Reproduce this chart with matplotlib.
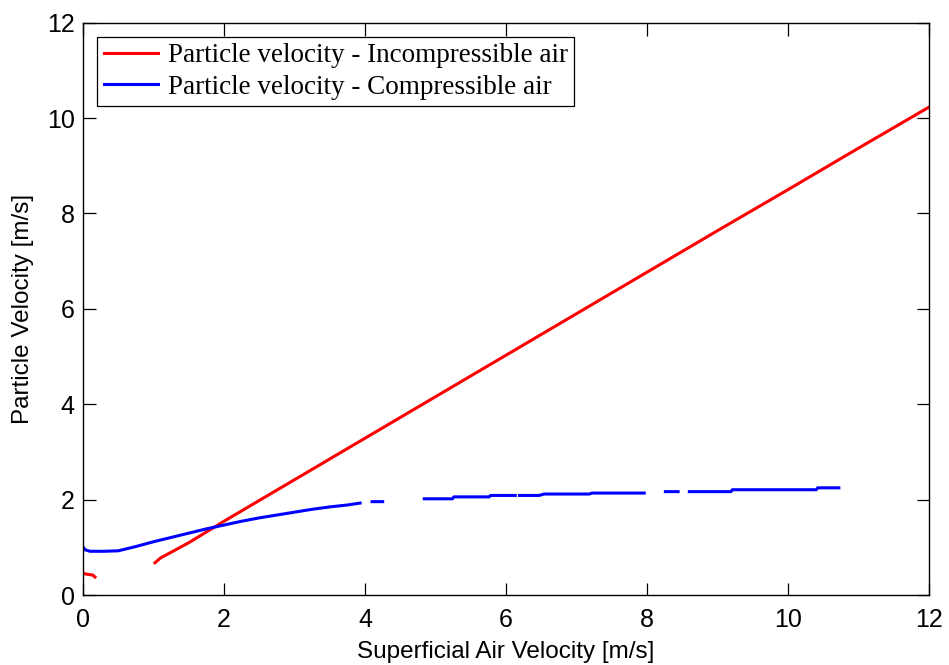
import numpy as np
import matplotlib
matplotlib.use("Agg")
import matplotlib.pyplot as plt

nan = np.nan

# incompressible air (red)
x_inc = [0.0, 0.05, 0.1, 0.14, 0.17, nan,
         1.02, 1.1, 1.2, 1.35, 1.5, 1.7, 2.0, 3.0, 4.0, 5.0, 6.0, 7.0, 8.0, 9.0, 10.0, 11.0, 12.0]
y_inc = [0.46, 0.44, 0.43, 0.42, 0.38, nan,
         0.68, 0.78, 0.86, 0.98, 1.1, 1.28, 1.55, 2.42, 3.29, 4.16, 5.03, 5.9, 6.77, 7.64, 8.5, 9.37, 10.23]

# compressible air (blue)
x_com = [0.0, 0.03, 0.1, 0.3, 0.5, 0.75, 1.0, 1.25, 1.5, 1.75, 2.0, 2.25, 2.5, 2.75, 3.0,
         3.25, 3.5, 3.75, 3.93, nan,
         4.1, 4.25, nan,
         4.84, 5.24, 5.26, 5.76, 5.78, 6.13, nan,
         6.19, 6.47, 6.54, 7.18, 7.22, 7.96, nan,
         8.26, 8.44, nan,
         8.6, 9.19, 9.21, 10.4, 10.42, 10.72]
y_com = [1.01, 0.95, 0.92, 0.92, 0.93, 1.02, 1.12, 1.21, 1.3, 1.39, 1.47, 1.55, 1.62, 1.68, 1.74,
         1.8, 1.85, 1.89, 1.93, nan,
         1.96, 1.96, nan,
         2.02, 2.02, 2.06, 2.06, 2.09, 2.09, nan,
         2.09, 2.09, 2.12, 2.12, 2.14, 2.14, nan,
         2.17, 2.17, nan,
         2.17, 2.17, 2.21, 2.21, 2.25, 2.25]

plt.rcParams['font.family'] = ['Liberation Sans', 'DejaVu Sans']

fig = plt.figure(figsize=(9.49, 6.65), dpi=100)
ax = fig.add_axes([0.0875, 0.105, 0.8915, 0.861])

ax.plot(x_inc, y_inc, color='#ff0000', lw=2.2, label='Particle velocity - Incompressible air')
ax.plot(x_com, y_com, color='#0000ff', lw=2.2, label='Particle velocity - Compressible air')

ax.set_xlim(0, 12)
ax.set_ylim(0, 12)
ax.set_xticks(range(0, 13, 2))
ax.set_yticks(range(0, 13, 2))
ax.tick_params(direction='in', top=True, right=True, length=9, width=0.9, labelsize=18, pad=6)
ax.tick_params(axis='x', pad=9)
for s in ax.spines.values():
    s.set_linewidth(1.0)

ax.set_xlabel('Superficial Air Velocity [m/s]', fontsize=17.5, labelpad=7)
ax.set_ylabel('Particle Velocity [m/s]', fontsize=17.5, labelpad=9)

leg = ax.legend(loc='upper left', prop={'family': 'Liberation Serif', 'size': 19.5},
                frameon=True, fancybox=False, edgecolor='black', framealpha=1,
                handlelength=2.0, handletextpad=0.36, labelspacing=0.25,
                borderaxespad=0.53, borderpad=0.23)
leg.get_frame().set_linewidth(0.9)

fig.savefig('out.png', dpi=100)
